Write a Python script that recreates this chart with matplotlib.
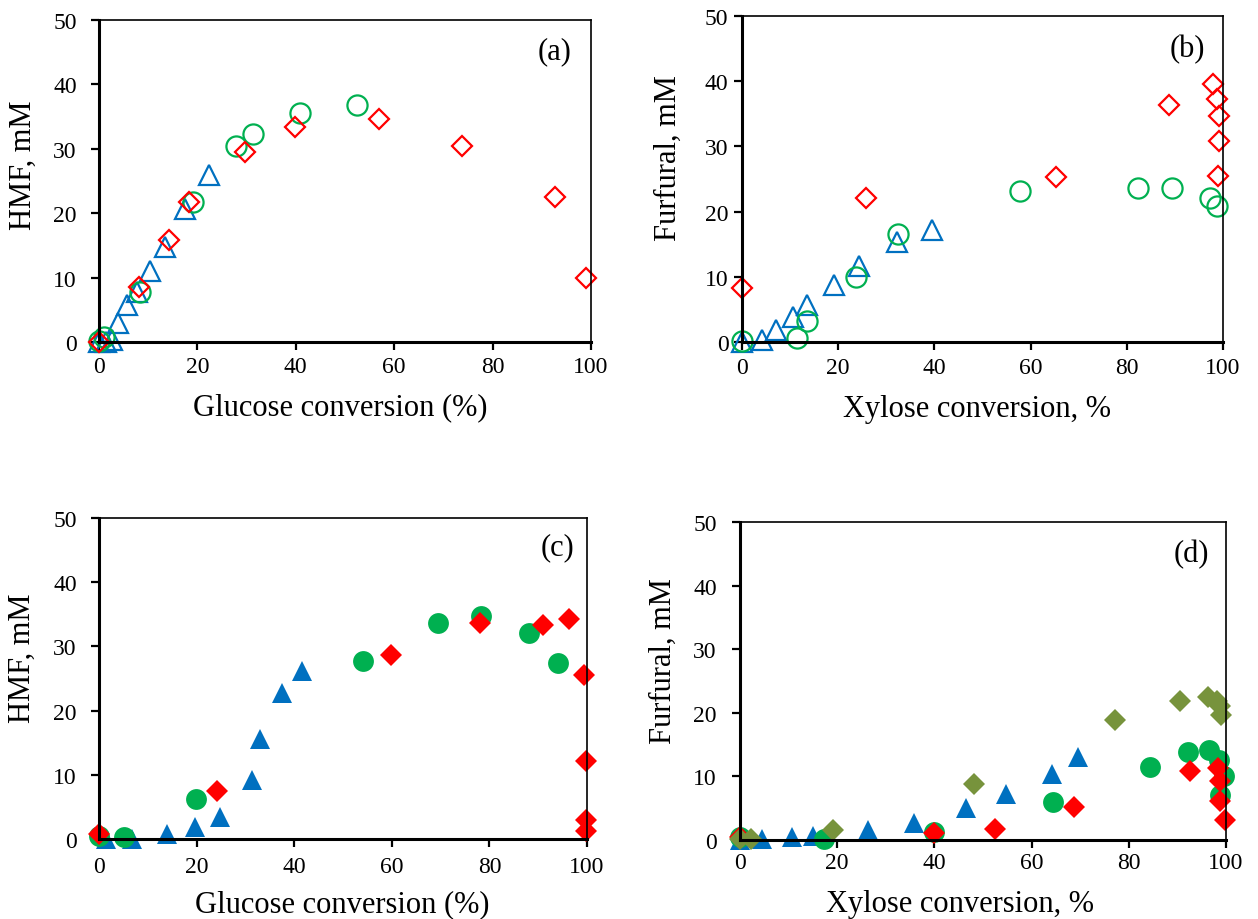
import matplotlib
matplotlib.use("Agg")
import matplotlib.pyplot as plt

# ---------------- data ----------------
# Panel (a): HMF vs glucose conversion (open markers)
a_tri_x = [0, 1.5, 2.7, 3.9, 5.6, 7.8, 10.4, 13.4, 17.5, 22.4]
a_tri_y = [0, 0, 0.3, 2.9, 5.8, 7.7, 11.0, 14.8, 20.6, 26.0]
a_cir_x = [0, 1.0, 8.3, 19.2, 27.8, 31.2, 40.9, 52.4]
a_cir_y = [0.2, 0.8, 7.8, 21.8, 30.4, 32.3, 35.6, 36.8]
a_dia_x = [0, 8.1, 14.2, 18.3, 29.7, 39.8, 57.0, 73.8, 92.7, 98.9]
a_dia_y = [0, 8.5, 15.9, 21.7, 29.5, 33.4, 34.6, 30.5, 22.5, 10.0]

# Panel (b): furfural vs xylose conversion (open markers)
b_tri_x = [0, 4.2, 7.1, 10.6, 13.5, 19.2, 24.4, 32.2, 39.6]
b_tri_y = [0, 0.3, 1.8, 3.9, 5.7, 8.8, 11.6, 15.4, 17.2]
b_cir_x = [0, 11.4, 13.5, 23.7, 32.5, 57.8, 82.4, 89.3, 97.2, 98.8]
b_cir_y = [0.15, 0.6, 3.2, 9.9, 16.5, 23.2, 23.6, 23.6, 22.1, 20.8]
b_dia_x = [0, 25.8, 65.3, 88.7, 97.9, 98.8, 99.2, 99.2, 99.0]
b_dia_y = [8.35, 22.1, 25.3, 36.3, 39.5, 37.3, 34.7, 30.9, 25.5]

# Panel (c): HMF vs glucose conversion (filled markers)
c_tri_x = [1.5, 6.7, 13.9, 19.7, 24.7, 31.4, 32.9, 37.5, 41.6]
c_tri_y = [0, 0, 0.8, 1.8, 3.5, 9.2, 15.5, 22.8, 26.1]
c_cir_x = [0, 5.2, 19.9, 54.2, 69.4, 78.3, 88.2, 94.0]
c_cir_y = [0.5, 0.3, 6.2, 27.7, 33.7, 34.7, 32.1, 27.4]
c_dia_x = [0, 24.1, 59.9, 78.0, 90.9, 96.4, 99.3, 99.8, 99.8, 99.8]
c_dia_y = [0.8, 7.4, 28.7, 33.7, 33.4, 34.3, 25.5, 12.2, 3.0, 1.2]

# Panel (d): furfural vs xylose conversion (filled markers)
d_tri_x = [0, 4.5, 10.6, 15.0, 26.4, 35.7, 46.5, 54.8, 64.3, 69.5]
d_tri_y = [0, 0.2, 0.4, 0.7, 1.5, 2.7, 5.0, 7.3, 10.4, 13.1]
d_cir_x = [0, 17.2, 39.9, 64.4, 84.4, 92.2, 96.6, 98.5, 99.5, 98.8]
d_cir_y = [0.4, 0.2, 1.3, 6.0, 11.4, 13.8, 14.1, 12.6, 10.0, 7.0]
d_dia_x = [0, 39.9, 52.4, 68.8, 92.5, 98.4, 98.8, 98.8, 99.7]
d_dia_y = [0.4, 1.1, 1.8, 5.2, 10.9, 11.3, 9.3, 6.2, 3.2]
d_oli_x = [0, 2.2, 19.2, 48.2, 77.2, 90.5, 96.2, 98.1, 98.8, 99.0]
d_oli_y = [0.2, 0.2, 1.5, 8.8, 18.9, 21.9, 22.5, 21.9, 21.1, 19.7]

x_ticks = [0, 20, 40, 60, 80, 100]
y_ticks = [0, 10, 20, 30, 40, 50]

RED = "#FF0000"
GREEN = "#00B050"
BLUE = "#0070C0"
OLIVE = "#77933C"

plt.rcParams['font.family'] = ['Liberation Serif', 'DejaVu Serif']

W, H = 1258, 920
fig = plt.figure(figsize=(W / 100, H / 100), dpi=100)

# pixel boxes: left, right, top, bottom
boxes = {
    'a': (99, 591, 21, 343),
    'b': (742, 1223, 17, 343),
    'c': (99, 587, 519, 840),
    'd': (740, 1226, 523, 841),
}
ypads = {'a': 10, 'b': 3.8, 'c': 10, 'd': 10.8}
xpads = {'a': 4, 'b': 4.5, 'c': 6, 'd': 2.5}
ylabels = {'a': 'HMF, mM', 'b': 'Furfural, mM', 'c': 'HMF, mM', 'd': 'Furfural, mM'}
xlabels = {'a': 'Glucose conversion (%)', 'b': 'Xylose conversion, %',
           'c': 'Glucose conversion (%)', 'd': 'Xylose conversion, %'}
# label centers in pixels
ylab_pos = {'a': (23, 165), 'b': (668, 158), 'c': (22, 658), 'd': (663, 661)}
xlab_pos = {'a': (340, 408), 'b': (977, 410), 'c': (342, 905), 'd': (960, 905)}
tag_pos = {'a': (555, 52), 'b': (1187, 50), 'c': (557, 548), 'd': (1191, 555)}

axes = {}
for key, (l, r, t, b) in boxes.items():
    ax = fig.add_axes([l / W, (H - b) / H, (r - l) / W, (b - t) / H])
    ax.set_xlim(0, 100)
    ax.set_ylim(0, 50)
    ax.set_xticks(x_ticks)
    ax.set_yticks(y_ticks)
    ax.tick_params(axis='both', direction='out', length=6, width=1.6,
                   labelsize=17, top=False, right=False)
    ax.tick_params(axis='y', pad=ypads[key])
    ax.tick_params(axis='x', pad=xpads[key])
    for s in ('left', 'bottom'):
        ax.spines[s].set_linewidth(2.2)
    for s in ('top', 'right'):
        ax.spines[s].set_linewidth(1.2)
    fig.text(ylab_pos[key][0] / W, 1 - ylab_pos[key][1] / H, ylabels[key],
             rotation=90, ha='center', va='center', fontsize=22)
    fig.text(xlab_pos[key][0] / W, 1 - xlab_pos[key][1] / H, xlabels[key],
             ha='center', va='center', fontsize=22)
    fig.text(tag_pos[key][0] / W, 1 - tag_pos[key][1] / H, '(' + key + ')',
             ha='center', va='center', fontsize=22)
    axes[key] = ax

open_kw = dict(linestyle='none', markerfacecolor='none', markeredgewidth=1.6, clip_on=False)
fill_kw = dict(linestyle='none', markeredgewidth=0, clip_on=False)

for key, tx, ty, cx, cy, dx, dy in [('a', a_tri_x, a_tri_y, a_cir_x, a_cir_y, a_dia_x, a_dia_y),
                                      ('b', b_tri_x, b_tri_y, b_cir_x, b_cir_y, b_dia_x, b_dia_y)]:
    ax = axes[key]
    ax.plot(tx, ty, marker='^', markersize=14.5, markeredgecolor=BLUE, **open_kw)
    ax.plot(cx, cy, marker='o', markersize=14.5, markeredgecolor=GREEN, **open_kw)
    ax.plot(dx, dy, marker='D', markersize=10.5, markeredgecolor=RED, **open_kw)

ax = axes['c']
ax.plot(c_tri_x, c_tri_y, marker='^', markersize=15, color=BLUE, **fill_kw)
ax.plot(c_cir_x, c_cir_y, marker='o', markersize=15, color=GREEN, **fill_kw)
ax.plot(c_dia_x, c_dia_y, marker='D', markersize=11, color=RED, **fill_kw)

ax = axes['d']
ax.plot(d_tri_x, d_tri_y, marker='^', markersize=15, color=BLUE, **fill_kw)
ax.plot(d_cir_x, d_cir_y, marker='o', markersize=15, color=GREEN, **fill_kw)
ax.plot(d_dia_x, d_dia_y, marker='D', markersize=11, color=RED, **fill_kw)
ax.plot(d_oli_x, d_oli_y, marker='D', markersize=11, color=OLIVE, **fill_kw)

fig.savefig('out.png', dpi=100)
